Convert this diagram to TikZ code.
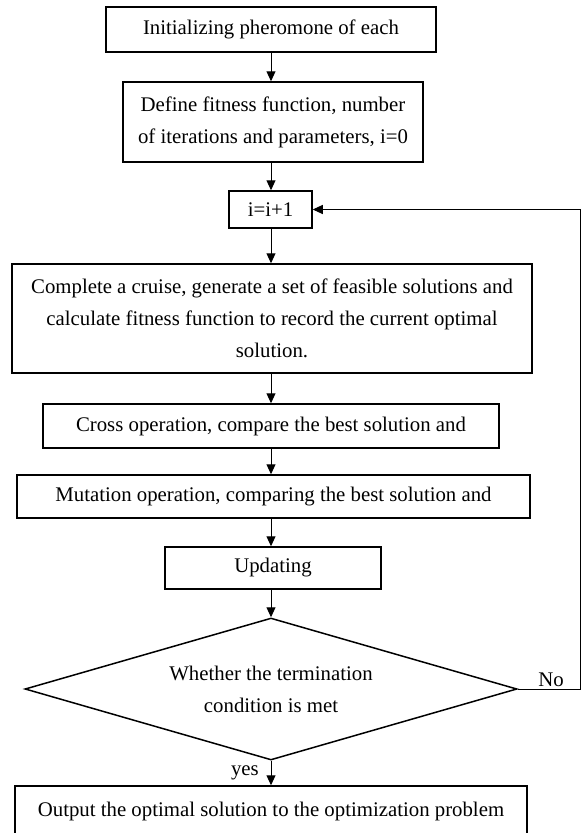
\documentclass[tikz,border=0pt]{standalone}
\usepackage{fontspec}
\setmainfont{Liberation Serif}
\usetikzlibrary{shapes.geometric,arrows.meta}
\tikzstyle{box}=[draw=black,line width=1.5pt,align=center,inner sep=0pt,font=\fontsize{20.8}{32}\selectfont]
\tikzstyle{test}=[box,diamond,aspect=3.4]
\tikzstyle{flow}=[draw=black,line width=1pt,-{Triangle[length=10pt,width=9pt]}]
\tikzstyle{lbl}=[font=\fontsize{20.8}{24}\selectfont,inner sep=1pt]

\begin{document}
\begin{tikzpicture}[x=1pt,y=-1pt]
  \useasboundingbox (0,0) rectangle (582,833);
  \clip (0,0) rectangle (582,833);

  \node[box,minimum width=330pt,minimum height=45pt] (init) at (271,29.5) {Initializing pheromone of each};
  \node[box,minimum width=300pt,minimum height=80pt] (define) at (273,122) {Define fitness function, number\\of iterations and parameters, i=0};
  \node[box,minimum width=83pt,minimum height=37pt] (incr) at (270.5,209.5) {i=i+1};
  \node[box,minimum width=520pt,minimum height=109pt] (cruise) at (272,318.5) {Complete a cruise, generate a set of feasible solutions and\\calculate fitness function to record the current optimal\\solution.};
  \node[box,minimum width=456pt,minimum height=44pt] (cross) at (271,426) {Cross operation, compare the best solution and};
  \node[box,minimum width=513pt,minimum height=43pt] (mutate) at (273.5,496.5) {Mutation operation, comparing the best solution and};
  \node[box,minimum width=216pt,minimum height=42pt] (update) at (273,568) {Updating};
  \node[test,minimum width=492pt,minimum height=142pt] (stop) at (271,689) {Whether the termination\\condition is met};
  \node[box,minimum width=512pt,minimum height=50pt] (output) at (271,811) {Output the optimal solution to the optimization problem};

  \draw[flow] (init.south) -- (init.south |- define.north);
  \draw[flow] (init.south |- define.south) -- (init.south |- incr.north);
  \draw[flow] (init.south |- incr.south) -- (init.south |- cruise.north);
  \draw[flow] (init.south |- cruise.south) -- (init.south |- cross.north);
  \draw[flow] (init.south |- cross.south) -- (init.south |- mutate.north);
  \draw[flow] (init.south |- mutate.south) -- (init.south |- update.north);
  \draw[flow] (stop.north |- update.south) -- (stop.north);
  \draw[flow] (stop.south) -- (output.north);

  % loop back when not finished
  \coordinate (back) at (580,689);
  \draw[flow] (stop.east) -- (back) |- (incr.east);
  \node[lbl,anchor=south] (no) at (551,688) {No};
  \node[lbl,anchor=base east] (yes) at (260,775) {yes};
\end{tikzpicture}
\end{document}
